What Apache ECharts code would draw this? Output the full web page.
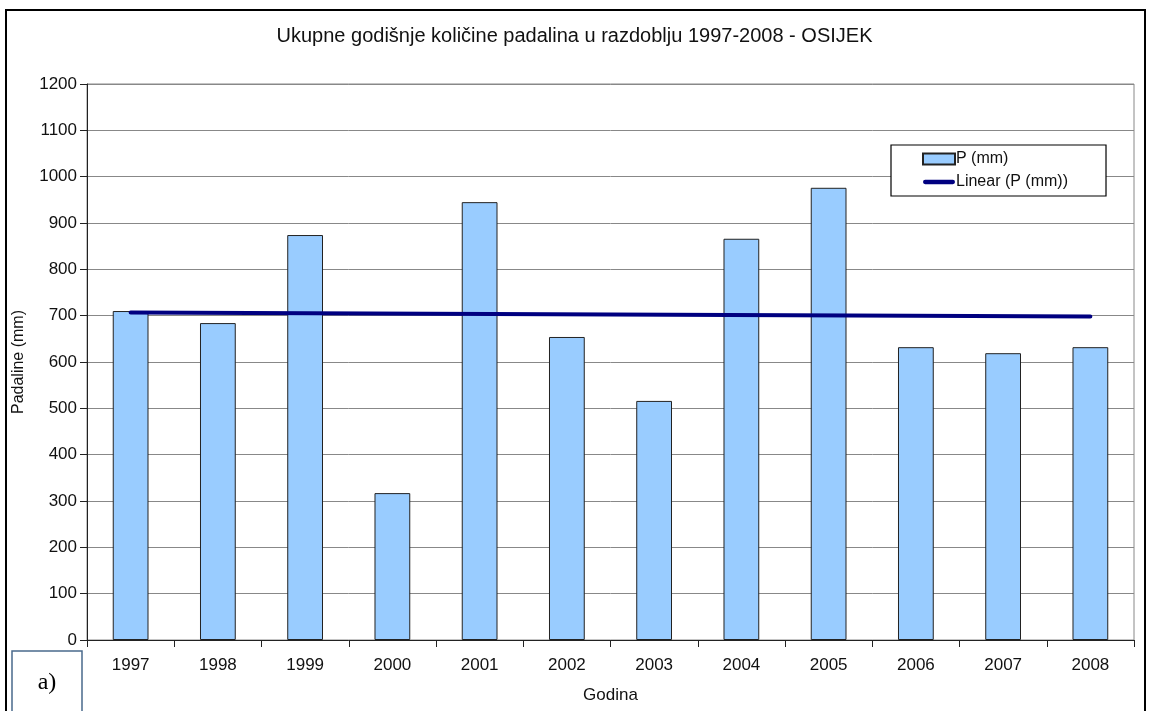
<!DOCTYPE html>
<html><head><meta charset="utf-8">
<script src="https://cdn.jsdelivr.net/npm/echarts@6/dist/echarts.min.js"></script>
<style>html,body{margin:0;padding:0;background:#fff}#c{width:1149px;height:711px}</style>
</head><body><div id="c"></div>
<script>
const years = ['1997','1998','1999','2000','2001','2002','2003','2004','2005','2006','2007','2008'];
const precip = [710, 684, 874, 317, 945, 654, 516, 866, 976, 632, 619, 632];
const trend = [707, null, null, null, null, null, null, null, null, null, null, 698];
const yTicks = {min: 0, max: 1200, interval: 100};

const chart = echarts.init(document.getElementById('c'));
const font = 'Liberation Sans, Arial, sans-serif';
chart.setOption({
  animation: false,
  backgroundColor: '#fff',
  title: {text: 'Ukupne godišnje količine padalina u razdoblju 1997-2008 - OSIJEK', left: 'center', top: 21,
    textStyle: {fontFamily: font, fontSize: 20, fontWeight: 'normal', color: '#111'}},
  grid: {left: 87, right: 15, top: 84, bottom: 71, show: true, borderColor: '#888', borderWidth: 1, outerBoundsMode: 'none', containLabel: false},
  legend: {orient: 'vertical', left: 891, top: 145, padding: [6, 38, 6, 31],
    backgroundColor: '#fff', borderColor: '#000', borderWidth: 1.2, itemGap: 7, itemWidth: 32, itemHeight: 11,
    textStyle: {fontFamily: font, fontSize: 16, color: '#111', padding: [0, 0, 0, -4]},
    data: [{name: 'P (mm)', icon: 'rect'}, {name: 'Linear (P (mm))', icon: 'path://M2,0 L34,0 A2.5,2.5 0 0 1 34,5 L2,5 A2.5,2.5 0 0 1 2,0 Z'}]},
  xAxis: {type: 'category', data: years, boundaryGap: true,
    name: 'Godina', nameLocation: 'middle', nameGap: 47,
    nameTextStyle: {fontFamily: font, fontSize: 17, color: '#111'},
    axisLine: {lineStyle: {color: '#222', width: 1}},
    axisTick: {show: true, length: 7, lineStyle: {color: '#222'}, interval: 0},
    axisLabel: {fontFamily: font, fontSize: 17, color: '#111', margin: 17}},
  yAxis: {type: 'value', min: yTicks.min, max: yTicks.max, interval: yTicks.interval,
    name: 'Padaline (mm)', nameLocation: 'middle', nameGap: 60, nameRotate: 90,
    nameTextStyle: {fontFamily: font, fontSize: 16, color: '#111'},
    axisLine: {show: true, lineStyle: {color: '#222', width: 1}},
    axisTick: {show: true, length: 7, lineStyle: {color: '#222'}},
    axisLabel: {fontFamily: font, fontSize: 17, color: '#111', margin: 10, formatter: v => String(v)},
    splitLine: {show: true, lineStyle: {color: '#888', width: 1}}},
  series: [
    {name: 'P (mm)', type: 'bar', data: precip, barWidth: '41%',
      itemStyle: {color: '#99CCFF', borderColor: '#222', borderWidth: 1}},
    {name: 'Linear (P (mm))', type: 'line', data: trend, connectNulls: true, symbol: 'none',
      lineStyle: {color: '#000080', width: 4, cap: 'round'}, itemStyle: {color: '#000080'}, z: 5}
  ],
  graphic: [
    {type: 'rect', shape: {x: 6, y: 10, width: 1139, height: 720}, style: {fill: 'none', stroke: '#000', lineWidth: 2}, silent: true, z: 100},
    {type: 'rect', shape: {x: 12, y: 651, width: 70, height: 70}, style: {fill: '#fff', stroke: '#4a6a8c', lineWidth: 1.5}, z: 100},
    {type: 'text', x: 47, y: 683, style: {text: 'a)', font: '24px "Liberation Serif", "DejaVu Serif", serif', fill: '#000', align: 'center', verticalAlign: 'middle'}, z: 101}
  ]
});
</script></body></html>
